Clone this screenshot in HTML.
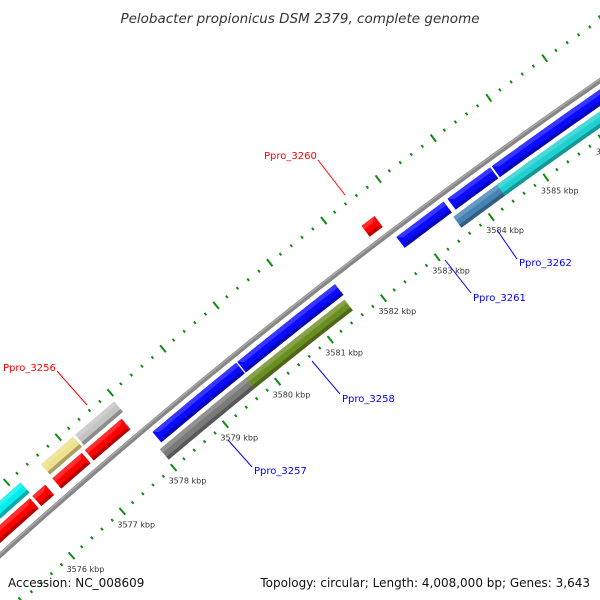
<!DOCTYPE html>
<html><head><meta charset="utf-8"><style>
html,body{margin:0;padding:0;background:#fff;width:600px;height:600px;overflow:hidden;}
svg{display:block;}
</style></head><body>
<svg id="map" width="600" height="600" viewBox="0 0 600 600" xmlns="http://www.w3.org/2000/svg">
<rect x="0" y="0" width="600" height="600" fill="#fff"/>
<g id="layer"></g>
<text x="300" y="23" text-anchor="middle" font-family="DejaVu Sans, sans-serif" font-style="italic" font-size="13.5" fill="#333">Pelobacter propionicus DSM 2379, complete genome</text>
<text x="8" y="587" font-family="DejaVu Sans, sans-serif" font-size="12" fill="#111">Accession: NC_008609</text>
<text x="590" y="587" text-anchor="end" font-family="DejaVu Sans, sans-serif" font-size="12" fill="#111">Topology: circular; Length: 4,008,000 bp; Genes: 3,643</text>
</svg>
<script>
// ---- data ----
const trackAStarts = [3574, 3576.55, 3577.21];
const trackAEnds   = [3576.15, 3577.17, 3577.96];
const trackAColors = ["#00eeee", "#eee08c", "#c4c4c4"];
const trackBStarts = [3574, 3576.15, 3576.54, 3577.17, 3582.39];
const trackBEnds   = [3576.10, 3576.40, 3577.11, 3577.88, 3582.63];
const trackCStarts = [3578.10, 3579.72, 3582.70, 3583.64, 3584.45];
const trackCEnds   = [3579.70, 3581.56, 3583.57, 3584.42, 3590];
const trackDStarts = [3578.02, 3579.67, 3583.55, 3584.35];
const trackDEnds   = [3579.67, 3581.53, 3584.36, 3590];
const trackDColors = ["#7a7a7a", "#6b8e23", "#4682b4", "#20d0d0"];
const tickStart = 3570;
const tickEnd = 3592;
const tickLabels = ["3570","3571","3572","3573","3574","3575","3576","3577","3578","3579","3580","3581","3582","3583","3584","3585","3586","3587","3588","3589","3590","3591","3592"];

// ---- geometry ----
const NS = "http://www.w3.org/2000/svg";
const layer = document.getElementById("layer");
const cx = 4015, cy = 5014;
function ang(k){ return -Math.PI + 0.8466 + (k - 3576) * 0.01133; }
function pt(k, r){ const a = ang(k); return [cx + r*Math.cos(a), cy + r*Math.sin(a)]; }
const R_D = 5968, R_C = 5986, R_BB = 6000, R_B = 6016, R_A = 6034, H = 6.8;
const R_IN = 5952, R_OUT = 6050, HEAD = 0.12;

function shade(hex, f){
  const n = parseInt(hex.slice(1), 16);
  let r = (n>>16)&255, g = (n>>8)&255, b = n&255;
  const m = v => Math.max(0, Math.min(255, Math.round(f < 1 ? v*f : v + (255-v)*(f-1))));
  return "rgb(" + m(r) + "," + m(g) + "," + m(b) + ")";
}
function arcPts(a, b, r){
  const out = []; const n = Math.max(2, Math.ceil(Math.abs(b-a)/0.1));
  for (let i=0;i<=n;i++){ out.push(pt(a + (b-a)*i/n, r)); }
  return out;
}
function shapePts(a, b, rc, r1, r2, s){
  const head = Math.min(HEAD, (b-a)*0.6);
  const e = rr => head * Math.abs(rr - rc) / H;
  let p = [];
  if (s === 1){
    p = p.concat(arcPts(a, b - head + e(r2), r2));
    if (r1 < rc && rc < r2) p.push(pt(b, rc));
    p = p.concat(arcPts(b - head + e(r1), a, r1));
  } else if (s === -1){
    p = p.concat(arcPts(a + head - e(r2), b, r2));
    p = p.concat(arcPts(b, a + head - e(r1), r1));
    if (r1 < rc && rc < r2) p.push(pt(a, rc));
  } else {
    p = p.concat(arcPts(a, b, r2)).concat(arcPts(b, a, r1));
  }
  return p.map(q => q[0].toFixed(2) + "," + q[1].toFixed(2)).join(" ");
}
function drawFeature(a, b, rc, s, color, name){
  const g = document.createElementNS(NS, "g");
  
  
  const main = document.createElementNS(NS, "polygon");
  main.setAttribute("points", shapePts(a, b, rc, rc - H, rc + H, s));
  main.setAttribute("fill", color);
  
  
  g.appendChild(main);
  const hi = document.createElementNS(NS, "polygon");
  hi.setAttribute("points", shapePts(a, b, rc, rc + H*0.35, rc + H, s));
  hi.setAttribute("fill", shade(color, 1.18));
  
  
  g.appendChild(hi);
  const sh = document.createElementNS(NS, "polygon");
  sh.setAttribute("points", shapePts(a, b, rc, rc - H, rc - H*0.45, s));
  sh.setAttribute("fill", shade(color, 0.72));
  
  
  g.appendChild(sh);
  layer.appendChild(g);
}
function arcPath(a, b, r){
  return arcPts(a, b, r).map((q,i)=>(i?"L":"M")+q[0].toFixed(2)+","+q[1].toFixed(2)).join(" ");
}

const bb = document.createElementNS(NS, "path");
bb.setAttribute("d", arcPath(tickStart, tickEnd, R_BB));
bb.setAttribute("stroke", "#868686"); bb.setAttribute("stroke-width", "5"); bb.setAttribute("fill", "none");


layer.appendChild(bb);
const bb2 = document.createElementNS(NS, "path");
bb2.setAttribute("d", arcPath(tickStart, tickEnd, R_BB + 1.2));
bb2.setAttribute("stroke", "#a8a8a8"); bb2.setAttribute("stroke-width", "1.5"); bb2.setAttribute("fill", "none");


layer.appendChild(bb2);

function drawRuler(r, withLabels, prefix){
  const steps = Math.round((tickEnd - tickStart) / 0.2);
  for (let i=0;i<=steps;i++){
    const k = tickStart + i*0.2;
    const major = (i % 5 === 0);
    const len = major ? 4.5 : 1.5;
    const p1 = pt(k, r - len), p2 = pt(k, r + len);
    const ln = document.createElementNS(NS, "line");
    ln.setAttribute("x1", p1[0]); ln.setAttribute("y1", p1[1]);
    ln.setAttribute("x2", p2[0]); ln.setAttribute("y2", p2[1]);
    ln.setAttribute("stroke", "#138a13"); ln.setAttribute("stroke-width", "2");
    
    
    layer.appendChild(ln);
    if (major && withLabels){
      const p = pt(k, r);
      const t = document.createElementNS(NS, "text");
      t.setAttribute("x", (p[0] - 5).toFixed(1)); t.setAttribute("y", (p[1] + 16).toFixed(1));
      t.setAttribute("font-family", "DejaVu Sans, sans-serif"); t.setAttribute("font-size", "8");
      t.setAttribute("fill", "#333");
      
      
      t.textContent = tickLabels[i/5] + " kbp";
      layer.appendChild(t);
    }
  }
}
drawRuler(R_OUT, false, 'outer-ruler');
drawRuler(R_IN, true, 'inner-ruler');

trackAStarts.forEach((s,i)=>drawFeature(s, trackAEnds[i], R_A, 0, trackAColors[i], 'feature-track-a-' + i));
trackBStarts.forEach((s,i)=>drawFeature(s, trackBEnds[i], R_B, 1, "#ff0000", 'forward-gene-' + i));
trackCStarts.forEach((s,i)=>drawFeature(s, trackCEnds[i], R_C, -1, "#0a0aff", 'reverse-gene-' + i));
trackDStarts.forEach((s,i)=>drawFeature(s, trackDEnds[i], R_D, 0, trackDColors[i], 'cog-feature-' + i));

(function(){
  const svg = document.getElementById("map");
  const labels = [
    ["Ppro_3260", "#ff0000", 264, 159, 318, 160, 345, 195],
    ["Ppro_3256", "#ff0000", 3, 371, 57, 371, 87, 405],
    ["Ppro_3258", "#0000ff", 342, 402, 340, 394, 312, 361],
    ["Ppro_3257", "#0000ff", 254, 474, 252, 467, 228, 440],
    ["Ppro_3261", "#0000ff", 473, 301, 471, 293, 445, 260],
    ["Ppro_3262", "#0000ff", 519, 266, 517, 259, 497, 230]
  ];
  labels.forEach(l=>{
    const ln = document.createElementNS(NS, "line");
    ln.setAttribute("x1", l[4]); ln.setAttribute("y1", l[5]);
    ln.setAttribute("x2", l[6]); ln.setAttribute("y2", l[7]);
    ln.setAttribute("stroke", l[1]); ln.setAttribute("stroke-width", "1");
    
    
    svg.appendChild(ln);
    const t = document.createElementNS(NS, "text");
    t.setAttribute("x", l[2]); t.setAttribute("y", l[3]);
    t.setAttribute("font-family", "DejaVu Sans, sans-serif"); t.setAttribute("font-size", "10");
    t.setAttribute("fill", l[1]);
    
    
    t.textContent = l[0];
    svg.appendChild(t);
  });
})();
</script>
</body></html>
